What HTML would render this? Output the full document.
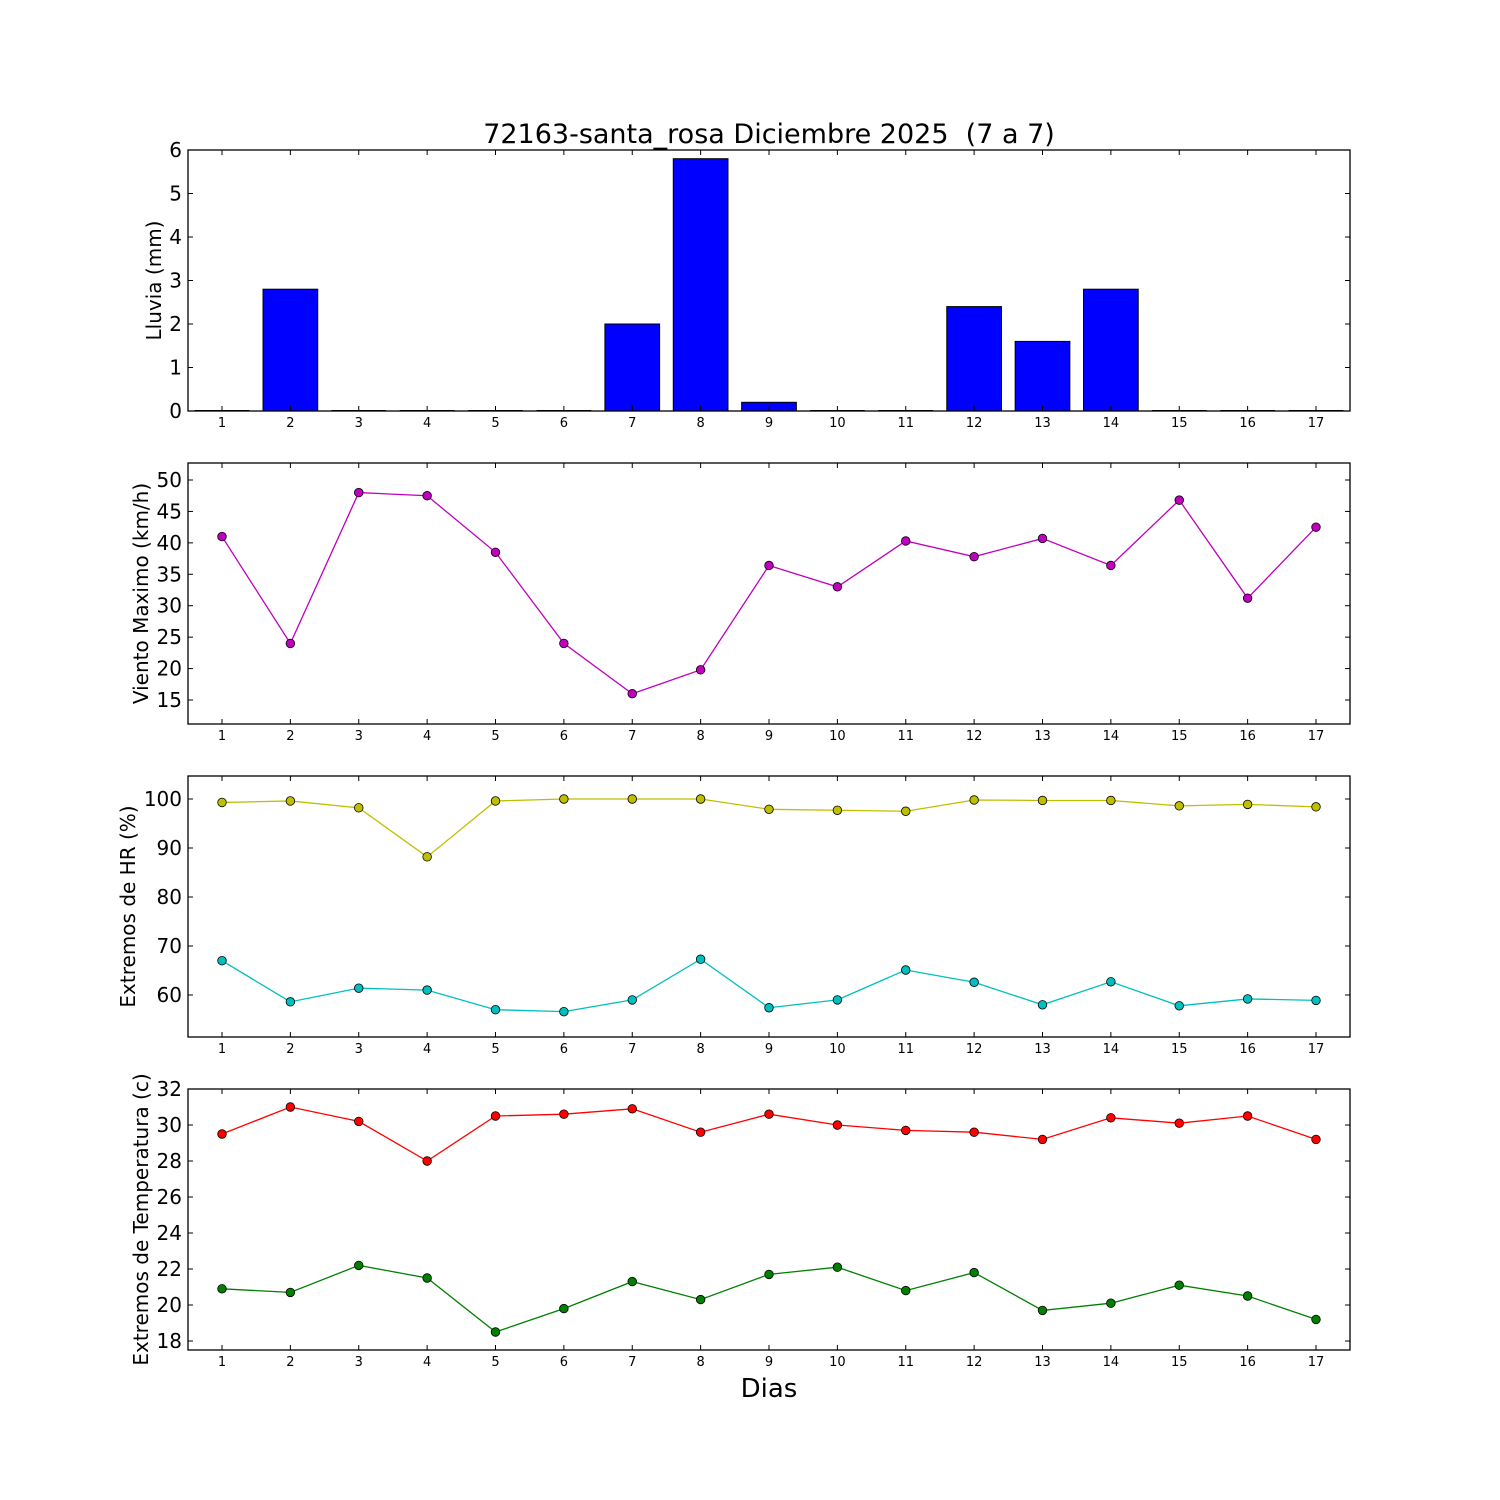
<!DOCTYPE html>
<html><head><meta charset="utf-8"><style>
html,body{margin:0;padding:0;background:#fff;}
svg{display:block;font-family:"DejaVu Sans","Liberation Sans",sans-serif;}
</style></head><body>
<svg id="s" width="1500" height="1500" xmlns="http://www.w3.org/2000/svg">
<rect width="1500" height="1500" fill="#fff"/>
<text x="769" y="143" font-size="27" text-anchor="middle" style="white-space:pre" xml:space="preserve">72163-santa_rosa Diciembre 2025  (7 a 7)</text>
<text x="769" y="1397" font-size="26" text-anchor="middle">Dias</text>
</svg>
<script>
var s=document.getElementById('s'),NS='http://www.w3.org/2000/svg';
function el(t,a,txt){var e=document.createElementNS(NS,t);for(var k in a)e.setAttribute(k,a[k]);if(txt!==undefined)e.textContent=txt;s.appendChild(e);return e;}
var L=188,R=1350;function X(d){return 222+(d-1)*68.375;}
function panel(top,bot,ymin,ymax,ticks,label,lx,draw){
  function Y(v){return bot-(v-ymin)/(ymax-ymin)*(bot-top);}
  draw(Y);
  el('rect',{x:L,y:top,width:R-L,height:bot-top,fill:'none',stroke:'#000','stroke-width':1.3});
  for(var d=1;d<=17;d++){var x=X(d);
    el('line',{x1:x,x2:x,y1:bot,y2:bot-5,stroke:'#000'});
    el('line',{x1:x,x2:x,y1:top,y2:top+5,stroke:'#000'});
    el('text',{x:x,y:bot+16,'font-size':13,'text-anchor':'middle'},d);}
  ticks.forEach(function(v){var y=Y(v);
    el('line',{x1:L,x2:L+5,y1:y,y2:y,stroke:'#000'});
    el('line',{x1:R,x2:R-5,y1:y,y2:y,stroke:'#000'});
    el('text',{x:L-6,y:y+7,'font-size':20,'text-anchor':'end'},v);});
  var cy=(top+bot)/2;
  el('text',{x:0,y:0,'font-size':20,'text-anchor':'middle',transform:'translate('+lx+','+cy+') rotate(-90)'},label);
}
function series(Y,vals,col){
  var p=vals.map(function(v,i){return X(i+1)+','+Y(v);}).join(' ');
  el('polyline',{points:p,fill:'none',stroke:col,'stroke-width':1.3});
  vals.forEach(function(v,i){el('circle',{cx:X(i+1),cy:Y(v),r:4.3,fill:col,stroke:'#000','stroke-width':0.8});});
}
var rain=[0,2.8,0,0,0,0,2.0,5.8,0.2,0,0,2.4,1.6,2.8,0,0,0];
panel(150,411,0,6,[0,1,2,3,4,5,6],'Lluvia (mm)',161,function(Y){
  rain.forEach(function(v,i){var x=X(i+1)-27.35;
    if(v>0)el('rect',{x:x,y:Y(v),width:54.7,height:411-Y(v),fill:'#0000ff',stroke:'#000','stroke-width':1});
    else el('line',{x1:x,x2:x+54.7,y1:410.5,y2:410.5,stroke:'#000','stroke-width':1});});
});
var wind=[41,24,48,47.5,38.5,24,16,19.8,36.4,33,40.3,37.8,40.7,36.4,46.8,31.2,42.5];
panel(463,724,15-24/6.2857,50+17/6.2857,[15,20,25,30,35,40,45,50],'Viento Maximo (km/h)',148,function(Y){series(Y,wind,'#bf00bf');});
var hx=[99.3,99.6,98.2,88.2,99.6,100,100,100,97.9,97.7,97.5,99.8,99.7,99.7,98.6,98.9,98.4];
var hn=[67,58.6,61.4,61,57,56.6,59,67.3,57.4,59,65.1,62.6,58,62.7,57.8,59.2,58.9];
panel(776,1037,60-42/4.9,100+23/4.9,[60,70,80,90,100],'Extremos de HR (%)',135,function(Y){series(Y,hx,'#bfbf00');series(Y,hn,'#00bfbf');});
var tx=[29.5,31,30.2,28,30.5,30.6,30.9,29.6,30.6,30,29.7,29.6,29.2,30.4,30.1,30.5,29.2];
var tn=[20.9,20.7,22.2,21.5,18.5,19.8,21.3,20.3,21.7,22.1,20.8,21.8,19.7,20.1,21.1,20.5,19.2];
panel(1089,1350,17.5,32,[18,20,22,24,26,28,30,32],'Extremos de Temperatura (c)',148,function(Y){series(Y,tx,'#ff0000');series(Y,tn,'#008000');});
</script>
</body></html>
